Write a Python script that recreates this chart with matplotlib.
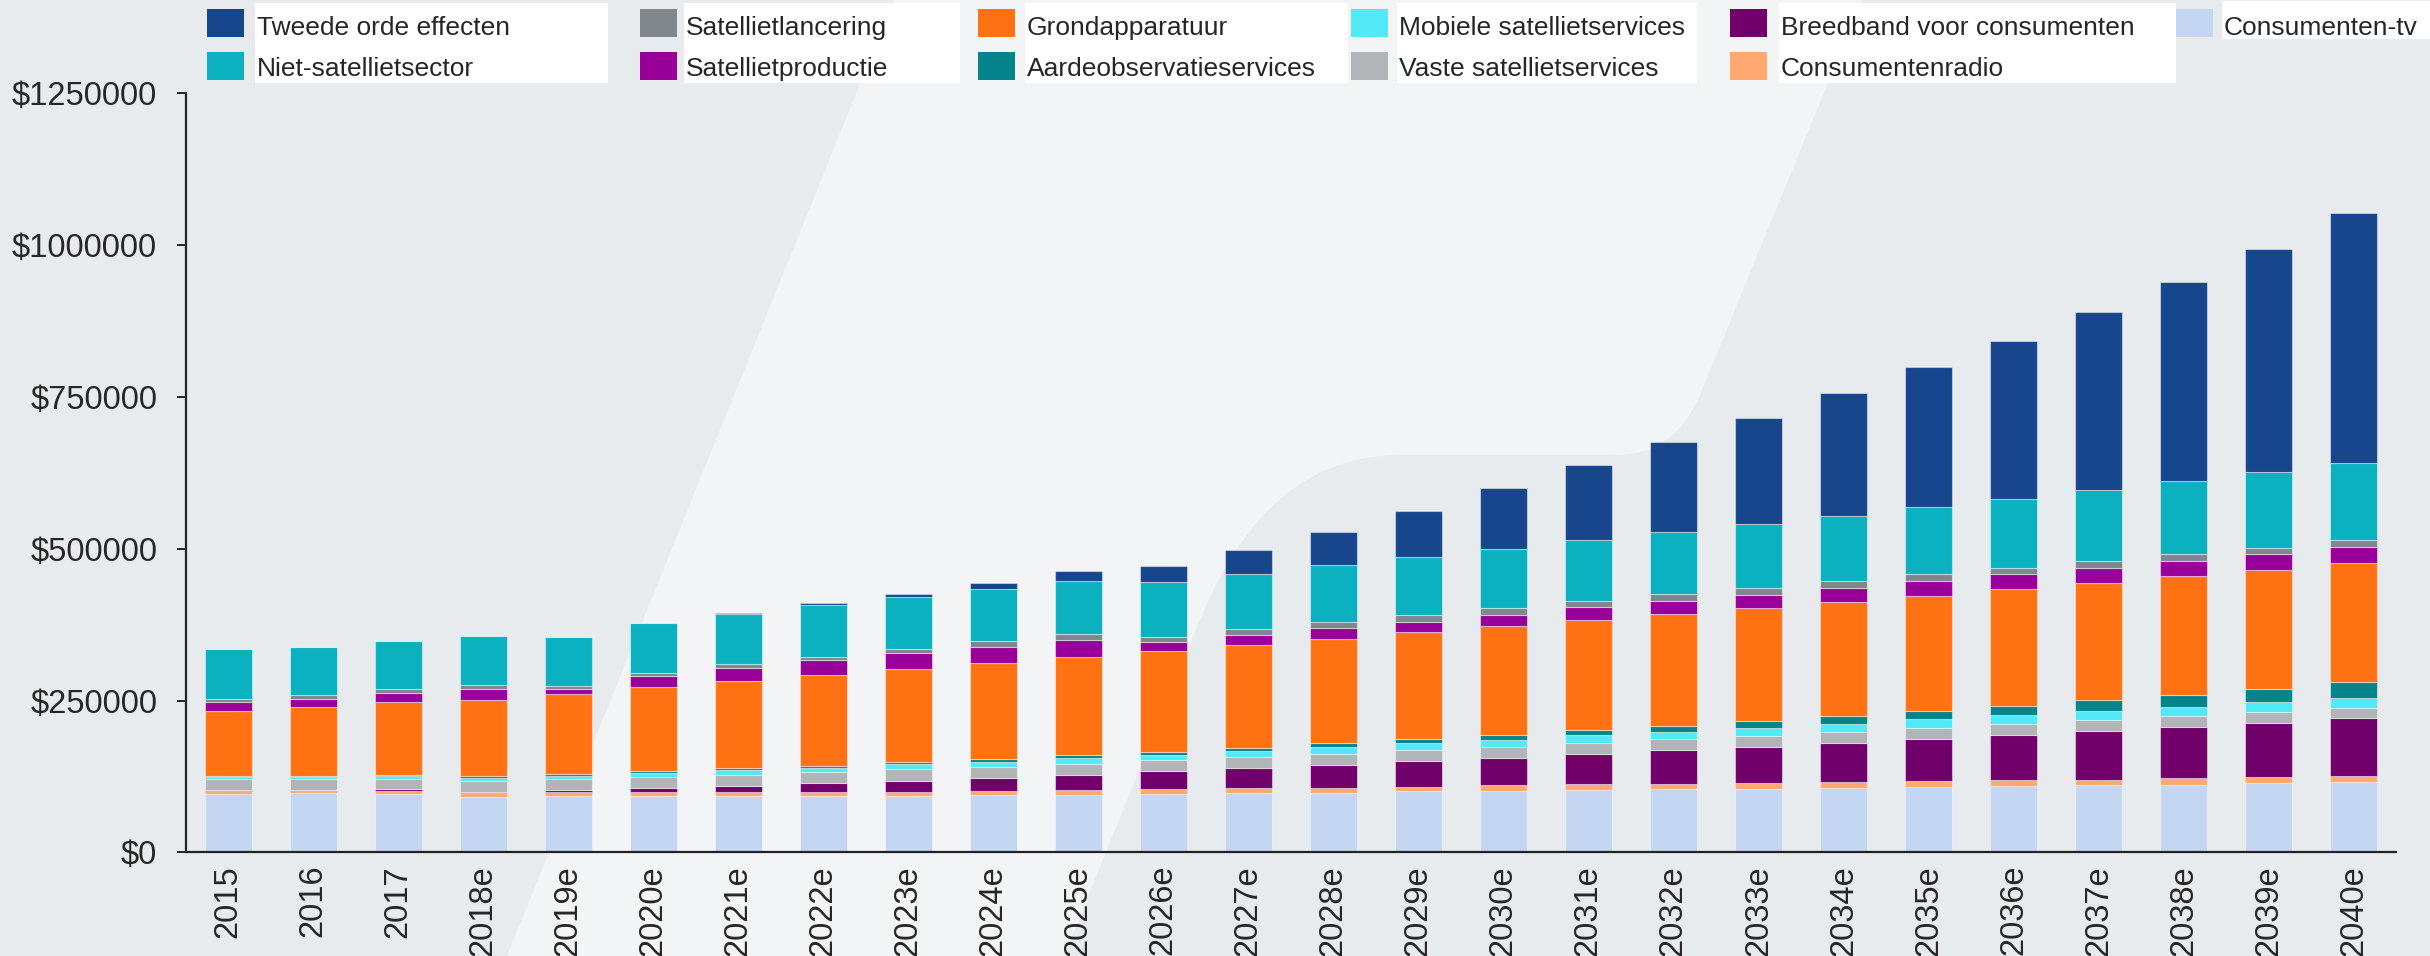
import matplotlib
matplotlib.use('Agg')
import matplotlib.pyplot as plt
from matplotlib.path import Path
from matplotlib.patches import PathPatch, Rectangle

plt.rcParams['font.family'] = ['Liberation Sans', 'DejaVu Sans']

years = ['2015', '2016', '2017', '2018e', '2019e', '2020e', '2021e', '2022e', '2023e',
         '2024e', '2025e', '2026e', '2027e', '2028e', '2029e', '2030e', '2031e', '2032e',
         '2033e', '2034e', '2035e', '2036e', '2037e', '2038e', '2039e', '2040e']

# values in $, stacked bottom to top
tv = [97000, 97300, 96200, 91800, 92900, 93400, 93400, 93400, 93400, 94500, 94500, 96200, 97300,
      98400, 100600, 101700, 103300, 104400, 105300, 106700, 108200, 109700, 110400, 111900, 114100, 116300]
radio = [3850, 3850, 4900, 6000, 6000, 6000, 5500, 6600, 6600, 7100, 8200, 7700, 8200,
         8200, 7700, 8800, 8800, 8800, 8800, 9600, 9600, 9600, 9600, 11000, 10300, 9600]
breedband = [1600, 2000, 2700, 2200, 3850, 7100, 11000, 14800, 18100, 21400, 24700, 29700, 34100,
             37400, 42300, 45600, 50600, 54900, 59600, 63300, 69200, 74400, 80200, 83900, 89100, 95000]
vaste = [18100, 17000, 17000, 17600, 17600, 18100, 18100, 17600, 18700, 18100, 18700, 18100, 17600,
         18700, 18700, 18100, 18100, 18100, 18400, 19100, 17700, 17700, 17700, 17700, 17700, 16900]
mobiele = [3850, 3850, 4900, 4900, 6000, 6000, 7700, 7100, 8200, 8200, 9300, 9300, 9900,
           11000, 10400, 11500, 12100, 12600, 13300, 12500, 14700, 14700, 14700, 15500, 16200, 16900]
aarde = [1600, 2200, 2200, 3300, 2700, 3850, 3300, 3300, 3850, 4400, 4900, 4900, 5500,
         6000, 7100, 8200, 8800, 9900, 11000, 13300, 14000, 15500, 17700, 19100, 22100, 25800]
grond = [106600, 113200, 119800, 125800, 132400, 137900, 142900, 149500, 153300, 158300, 162100, 166500, 169800,
         172500, 175800, 178600, 180800, 184100, 185500, 187700, 189200, 192100, 192900, 195800, 195800, 196600]
satprod = [15400, 13200, 15400, 18100, 8200, 18100, 22500, 24700, 26400, 26900, 28000, 13700, 15400,
           17600, 17600, 19200, 20900, 22000, 22800, 23600, 25000, 24300, 25800, 25800, 25800, 26500]
satlanc = [5500, 7100, 5500, 5500, 4400, 4900, 5500, 5500, 7100, 8800, 8800, 9300, 9900,
           9300, 10400, 10400, 11000, 10400, 11000, 11000, 10300, 10300, 10300, 10300, 11000, 11000]
nietsat = [80800, 78000, 79100, 80800, 80800, 81900, 83500, 85700, 85200, 86800, 88500, 90100, 91200,
           94000, 96200, 97800, 99500, 101700, 104500, 106700, 110400, 113400, 117800, 120700, 123700, 126600]
tweede = [0, 0, 0, 0, 0, 1000, 1600, 2200, 5500, 9900, 15400, 25800, 39000,
          55000, 75300, 100000, 123600, 148900, 175200, 203200, 230400, 259900, 292300, 327600, 368100, 412300]

series = [
    ('Consumenten-tv', tv, '#c4d6f2'),
    ('Consumentenradio', radio, '#ffa870'),
    ('Breedband voor consumenten', breedband, '#71006b'),
    ('Vaste satellietservices', vaste, '#b1b5b8'),
    ('Mobiele satellietservices', mobiele, '#50e9f5'),
    ('Aardeobservatieservices', aarde, '#06848c'),
    ('Grondapparatuur', grond, '#ff7214'),
    ('Satellietproductie', satprod, '#990099'),
    ('Satellietlancering', satlanc, '#7f868c'),
    ('Niet-satellietsector', nietsat, '#0bb1bf'),
    ('Tweede orde effecten', tweede, '#18468c'),
]

W, H = 2430, 956
fig = plt.figure(figsize=(W / 100, H / 100), dpi=100)
fig.patch.set_facecolor('#e8ebee')

# decorative background shape, in pixel coords
bg = fig.add_axes([0, 0, 1, 1], zorder=0)
bg.set_xlim(0, W)
bg.set_ylim(H, 0)
bg.axis('off')
verts = [(894, 0), (1862, 0), (1700, 395), (1675, 455), (1615, 455), (1400, 455),
         (1267, 455), (1200, 620), (1064, 956), (507, 956), (894, 0)]
codes = [Path.MOVETO, Path.LINETO, Path.LINETO, Path.CURVE3, Path.CURVE3, Path.LINETO,
         Path.CURVE3, Path.CURVE3, Path.LINETO, Path.LINETO, Path.CLOSEPOLY]
bg.add_patch(PathPatch(Path(verts, codes), facecolor='#f3f4f6', edgecolor='none'))

# legend, built by hand: columns of (swatch x, text box x0, text box x1)
legend_items = series[::-1]
cols = [(207, 255, 608), (640, 684, 960), (978, 1025, 1348),
        (1351, 1397, 1697), (1730, 1779, 2176), (2176, 2222, 2430)]
for ci, (sx, bx0, bx1) in enumerate(cols):
    items = legend_items[ci * 2:ci * 2 + 2]
    if len(items) == 2:
        bg.add_patch(Rectangle((bx0, 3), bx1 - bx0, 80, facecolor='white', edgecolor='none'))
    else:
        bg.add_patch(Rectangle((bx0, 1), bx1 - bx0, 38, facecolor='white', edgecolor='none'))
    for ri, (name, vals, col) in enumerate(items):
        top = 9 + ri * 43
        bg.add_patch(Rectangle((sx, top), 37, 28, facecolor=col, edgecolor='none'))
        bg.text(bx0 + 2, 34.5 + ri * 41, name, fontsize=19, color='#262626',
                ha='left', va='baseline')

ax = fig.add_axes([0.0764, 0.1083, 0.9096, 0.7941], zorder=1)
ax.patch.set_alpha(0)

x = list(range(len(years)))
bottom = [0] * len(years)
for name, vals, col in series:
    ax.bar(x, vals, 0.55, bottom=bottom, color=col, edgecolor=(1, 1, 1, 0.45),
           linewidth=0.8, label=name)
    bottom = [b + v for b, v in zip(bottom, vals)]

ax.set_xlim(-0.5, 25.5)
ax.set_ylim(0, 1250000)
yt = [0, 250000, 500000, 750000, 1000000, 1250000]
ax.set_yticks(yt)
ax.set_yticklabels(['$' + str(v) for v in yt])
ax.set_xticks(x)
ax.set_xticklabels(years, rotation=90)

for s in ['top', 'right']:
    ax.spines[s].set_visible(False)
for s in ['left', 'bottom']:
    ax.spines[s].set_linewidth(1.6)
    ax.spines[s].set_color('#222222')

ax.tick_params(axis='y', length=6.5, width=1.4, pad=14, labelsize=23.5,
               color='#222222', labelcolor='#262626')
ax.tick_params(axis='x', length=0, pad=9, labelsize=23.5, labelcolor='#262626')

fig.savefig('out.png', dpi=100, facecolor=fig.get_facecolor())
